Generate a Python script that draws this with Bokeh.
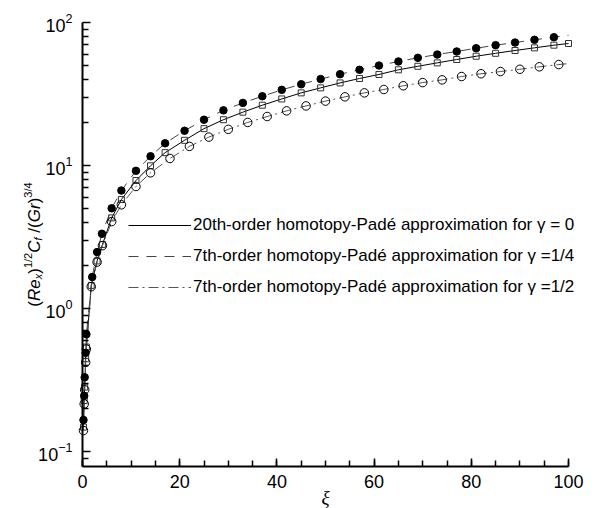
import math
from bokeh.plotting import figure
from bokeh.models import (Range1d, FixedTicker, SingleIntervalTicker, Legend, LegendItem,
                          Label, LogTickFormatter)
from bokeh.embed import file_html
from bokeh.resources import INLINE

# ---------------- data ----------------
# gamma = 0 : 20th-order homotopy-Pade (solid line, square markers)
g0_x = [0.2, 0.35, 0.45, 0.65, 0.8, 1.8, 3, 4.1, 6, 8, 11, 14, 17, 21, 25, 29, 33,
        37, 41, 45, 49, 53, 57, 61, 65, 69, 73, 77, 81, 85, 89, 93, 97, 100]
g0_y = [0.148, 0.227, 0.282, 0.445, 0.537, 1.45, 2.15, 2.80, 4.30, 5.78, 7.85, 9.95, 12.3,
        15.0, 18.1, 20.9, 23.6, 26.4, 29.2, 32.2, 34.9, 37.8, 40.6, 43.3, 46.7, 49.4,
        52.2, 55.1, 58.1, 60.9, 63.7, 66.5, 69.4, 71.3]

# gamma = 1/4 : 7th-order homotopy-Pade (dashed line, filled circles)
g14_x = [0.2, 0.35, 0.45, 0.65, 0.8, 2, 3, 4, 6, 8, 11, 14, 17, 21, 25, 29, 33,
         37, 41, 45, 49, 53, 57, 61, 65, 69, 73, 77, 81, 85, 89, 93, 97]
g14_y = [0.166, 0.245, 0.33, 0.49, 0.66, 1.66, 2.48, 3.33, 5.02, 6.68, 9.18, 11.6, 14.3,
         17.5, 20.9, 24.3, 27.4, 30.5, 33.8, 37.0, 40.2, 43.5, 46.7, 50.0, 53.4, 56.6,
         59.7, 62.7, 66.1, 69.4, 72.4, 75.7, 78.9]
g14_end = (100, 81.3)

# gamma = 1/2 : 7th-order homotopy-Pade (dash-dot line, open circles)
g12_x = [0.2, 0.35, 0.45, 0.65, 0.8, 1.8, 3, 4.1, 6, 8, 11, 14, 18, 22, 26, 30, 34,
         38, 42, 46, 50, 54, 58, 62, 66, 70, 74, 78, 82, 86, 90, 94, 98]
g12_y = [0.14, 0.215, 0.27, 0.42, 0.52, 1.42, 2.11, 2.75, 4.05, 5.31, 7.13, 8.89, 11.2,
         13.6, 15.8, 17.9, 20.0, 22.0, 24.1, 26.1, 28.2, 30.2, 32.2, 34.0, 36.1, 38.0,
         39.7, 41.9, 43.8, 45.4, 47.1, 49.0, 50.8]
g12_end = (100, 51.6)

labels = ["20th-order homotopy-Padé approximation for γ = 0",
          "7th-order homotopy-Padé approximation for γ =1/4",
          "7th-order homotopy-Padé approximation for γ =1/2"]

x_lo, x_hi = 0, 100
y_lo, y_hi = 0.0785, 100
y_major_ticks = [0.1, 1, 10, 100]
y_minor_ticks = [0.09, 0.2, 0.3, 0.4, 0.5, 0.6, 0.7, 0.8, 0.9,
                 2, 3, 4, 5, 6, 7, 8, 9, 20, 30, 40, 50, 60, 70, 80, 90]

# ---------------- layout: frame spans the whole canvas, axes drawn at fixed locations ----
W, H = 612, 508
FL, FR, FT, FB = 82, 44, 22, 42          # pixel margins of the visible axes box
ppu = (W - FL - FR) / (x_hi - x_lo)
dpp = (math.log10(y_hi) - math.log10(y_lo)) / (H - FT - FB)
xr = Range1d(x_lo - FL / ppu, x_hi + FR / ppu)
yr = Range1d(10 ** (math.log10(y_lo) - FB * dpp), 10 ** (math.log10(y_hi) + FT * dpp))

p = figure(width=W, height=H, x_range=xr, y_range=yr, y_axis_type="log",
           output_backend="svg", toolbar_location=None)
p.min_border = 0
p.min_border_left = 0
p.min_border_right = 0
p.min_border_top = 0
p.min_border_bottom = 0
p.outline_line_color = None
p.grid.visible = False
p.background_fill_color = "white"
p.border_fill_color = "white"

FONT = "Liberation Sans"
for ax in (p.xaxis[0], p.yaxis[0]):
    ax.major_tick_in = 8
    ax.major_tick_out = 0
    ax.minor_tick_in = 6
    ax.minor_tick_out = 0
    ax.axis_line_width = 2
    ax.major_tick_line_width = 1.5
    ax.minor_tick_line_width = 1.5
    ax.major_label_text_font = FONT
    ax.major_label_text_font_size = "18px"
    ax.major_label_text_color = "black"

xa = p.xaxis[0]
xa.ticker = SingleIntervalTicker(interval=20, num_minor_ticks=4)
xa.major_label_standoff = 8
xa.bounds = (x_lo, x_hi)
xa.fixed_location = y_lo

ya = p.yaxis[0]
ya.ticker = FixedTicker(ticks=y_major_ticks, minor_ticks=y_minor_ticks)
ya.formatter = LogTickFormatter()
ya.major_label_standoff = 10
ya.bounds = (y_lo, y_hi)
ya.fixed_location = x_lo

# lines
r0 = p.line(g0_x, g0_y, line_color="black", line_width=1)
r1 = p.line(g14_x + [g14_end[0]], g14_y + [g14_end[1]], line_color="#444444",
            line_width=1, line_dash="10 8")
r2 = p.line(g12_x + [g12_end[0]], g12_y + [g12_end[1]], line_color="#555555",
            line_width=1, line_dash="10 4 2 4")

# markers
p.scatter(g0_x, g0_y, marker="square", size=6, fill_alpha=0, line_color="#333333", line_width=1)
p.scatter(g14_x, g14_y, marker="circle", size=7.5, fill_color="black", line_color="black")
p.scatter(g12_x, g12_y, marker="circle", size=8.5, fill_alpha=0, line_color="black", line_width=1)

# legend (location = bottom-left corner, screen px from canvas bottom-left)
legend = Legend(items=[LegendItem(label=labels[0], renderers=[r0]),
                       LegendItem(label=labels[1], renderers=[r1]),
                       LegendItem(label=labels[2], renderers=[r2])],
                location=(128, H - 297), orientation="vertical",
                glyph_width=63, glyph_height=20, label_height=20, label_standoff=2,
                spacing=11, padding=0, margin=0,
                border_line_color=None, background_fill_alpha=0,
                label_text_font=FONT, label_text_font_size="17px", label_text_color="black")
p.add_layout(legend)

# x axis label
p.add_layout(Label(x=(FL + W - FR) / 2, y=H - 497, x_units="screen", y_units="screen",
                   text="ξ", text_font="Liberation Serif", text_font_style="italic",
                   text_font_size="19px", text_align="center", text_baseline="alphabetic",
                   text_color="black"))

# y axis label (pieces: text, size, style, baseline offset, advance)
pieces = [("(", 17, "normal", 0, 5.7), ("Re", 17, "italic", 0, 21.7),
          ("x", 11, "italic", 3, 5.5), (")", 17, "normal", 0, 5.7),
          ("1/2", 11, "normal", -7, 15.3), ("C", 17, "italic", 0, 12.3),
          ("f", 11, "italic", 3, 7.8), ("/(", 17, "normal", 0, 10.4),
          ("Gr", 17, "italic", 0, 18.9), (")", 17, "normal", 0, 5.7),
          ("3/4", 11, "normal", -7, 15.3)]
total = sum(pc[4] for pc in pieces)
cy = (FT + (H - FB)) / 2 + total / 2
base_x = 34
for t, s, st, off, adv in pieces:
    p.add_layout(Label(x=base_x + off, y=H - cy, x_units="screen", y_units="screen",
                       angle=math.pi / 2, text=t, text_font=FONT, text_font_size=f"{s}px",
                       text_font_style=st, text_align="left", text_baseline="alphabetic",
                       text_color="black"))
    cy -= adv

open("out.html", "w").write(file_html(p, INLINE))
